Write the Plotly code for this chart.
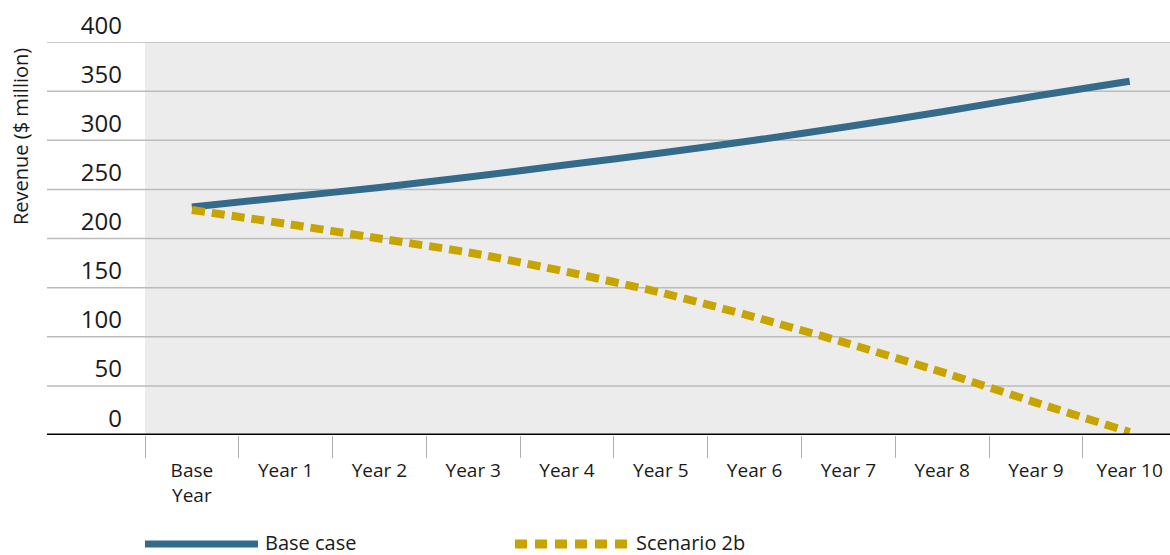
import plotly.graph_objects as go

categories = ["Base<br>Year", "Year 1", "Year 2", "Year 3", "Year 4", "Year 5",
              "Year 6", "Year 7", "Year 8", "Year 9", "Year 10"]
base_case = [232, 242, 252, 263, 275, 287, 300, 314, 329, 345, 360]
scenario_2b = [229, 215, 200, 185, 166, 145, 120, 93, 64, 33, 3]
y_ticks = [0, 50, 100, 150, 200, 250, 300, 350, 400]

BLUE = "#346A8A"
GOLD = "#C8A400"
FONT = "Open Sans"
TXT = "#1a1a1a"

W, H = 1170, 555
L, T, B = 145, 42, 120
plot_w = W - L
plot_h = H - T - B

def px_x(px):
    return (px - L) / plot_w

def px_y(py):
    return (H - B - py) / plot_h

fig = go.Figure()
fig.add_trace(go.Scatter(x=categories, y=base_case, mode="lines", name="Base case",
                         line=dict(color=BLUE, width=7, shape="spline", smoothing=0.6)))
fig.add_trace(go.Scatter(x=categories, y=scenario_2b, mode="lines", name="Scenario 2b",
                         line=dict(color=GOLD, width=8, dash="13px,7px", shape="spline", smoothing=0.6)))

shapes = []
for v in y_ticks:
    if v == 0:
        continue
    shapes.append(dict(type="line", xref="paper", yref="y", x0=px_x(47), x1=1, y0=v, y1=v,
                       line=dict(color="#BBBBBB", width=1.5), layer="below"))
# baseline
shapes.append(dict(type="line", xref="paper", yref="y", x0=px_x(47), x1=1, y0=0, y1=0,
                   line=dict(color="black", width=3), layer="above"))
# legend samples
shapes.append(dict(type="line", xref="paper", yref="paper", x0=px_x(145), x1=px_x(258),
                   y0=px_y(544), y1=px_y(544), line=dict(color=BLUE, width=7)))
shapes.append(dict(type="line", xref="paper", yref="paper", x0=px_x(515), x1=px_x(629),
                   y0=px_y(544), y1=px_y(544), line=dict(color=GOLD, width=9, dash="12px,8px")))

annotations = [
    dict(text="Revenue ($ million)", xref="paper", yref="paper", x=px_x(20), y=px_y(137),
         textangle=-90, showarrow=False, font=dict(family=FONT, size=20, color=TXT),
         xanchor="center", yanchor="middle"),
    dict(text="Base case", xref="paper", yref="paper", x=px_x(263), y=px_y(542),
         showarrow=False, font=dict(family=FONT, size=20, color=TXT), xanchor="left", yanchor="middle"),
    dict(text="Scenario 2b", xref="paper", yref="paper", x=px_x(634), y=px_y(542),
         showarrow=False, font=dict(family=FONT, size=20, color=TXT), xanchor="left", yanchor="middle"),
]

fig.update_layout(
    width=W, height=H,
    margin=dict(l=L, r=0, t=T, b=B),
    paper_bgcolor="white",
    plot_bgcolor="#EBECEB",
    showlegend=False,
    shapes=shapes,
    annotations=annotations,
    font=dict(family=FONT, color=TXT),
    xaxis=dict(
        type="category", range=[-0.5, 10.43], tickson="boundaries",
        ticks="outside", ticklen=22, tickcolor="#B0B0B0", tickwidth=1,
        showgrid=False, showline=False, zeroline=False, ticklabelstandoff=22,
        tickfont=dict(family=FONT, size=19, color=TXT),
    ),
    yaxis=dict(
        range=[0, 400], tickvals=y_ticks, ticks="", showgrid=False, zeroline=False,
        showline=False, ticklabelposition="outside top", ticklabelstandoff=22,
        tickfont=dict(family=FONT, size=24, color=TXT),
    ),
)

fig.write_html("out.html", config={"displayModeBar": False},
               post_script="document.body.style.margin='0';document.body.style.overflow='hidden';")
